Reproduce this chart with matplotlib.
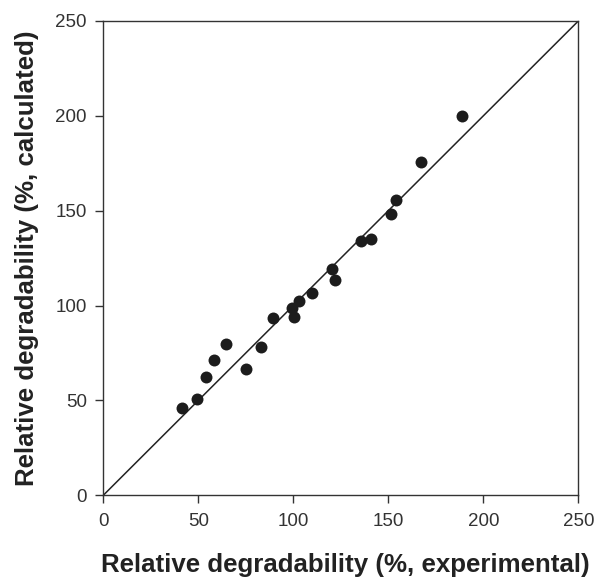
import matplotlib
matplotlib.use('Agg')
import matplotlib.pyplot as plt

plt.rcParams['font.family'] = ['Liberation Sans', 'DejaVu Sans']

experimental = [41.6, 49.1, 53.9, 58.3, 64.6, 74.9, 82.8, 89.1, 99.5, 100.5,
                103.2, 110.0, 120.3, 122.0, 135.6, 140.9, 151.4, 153.9, 167.2, 189.0]
calculated = [46.0, 50.5, 62.4, 71.2, 79.5, 66.8, 78.2, 93.2, 98.8, 94.0,
              102.5, 106.7, 119.5, 113.4, 134.0, 134.9, 148.0, 155.6, 175.8, 200.0]

ticks = [0, 50, 100, 150, 200, 250]

fig = plt.figure(figsize=(5.95, 5.78), dpi=100)
ax = fig.add_axes([0.1736, 0.1431, 0.7984, 0.8206])

# 1:1 line
ax.plot([0, 250], [0, 250], color='#222222', linewidth=1.1, zorder=2)
ax.scatter(experimental, calculated, s=74, color='#1c1c1c', zorder=3, linewidths=0)

ax.set_xlim(0, 250)
ax.set_ylim(0, 250)
ax.set_xticks(ticks)
ax.set_yticks(ticks)
ax.tick_params(direction='out', length=5.8, width=1, labelsize=13.5, colors='#333333',
               top=False, right=False)
ax.tick_params(axis='x', pad=7)
ax.tick_params(axis='y', pad=6)
for sp in ax.spines.values():
    sp.set_color('#333333')
    sp.set_linewidth(1)

ax.set_xlabel('Relative degradability (%, experimental)', fontsize=18.6,
              fontweight='bold', color='#222222', va='baseline')
ax.set_ylabel('Relative degradability (%, calculated)', fontsize=18.6,
              fontweight='bold', color='#222222', va='baseline')
ax.xaxis.set_label_coords(0.51, -0.161)
ax.yaxis.set_label_coords(-0.146, 0.5)

fig.savefig('out.png', dpi=100)
